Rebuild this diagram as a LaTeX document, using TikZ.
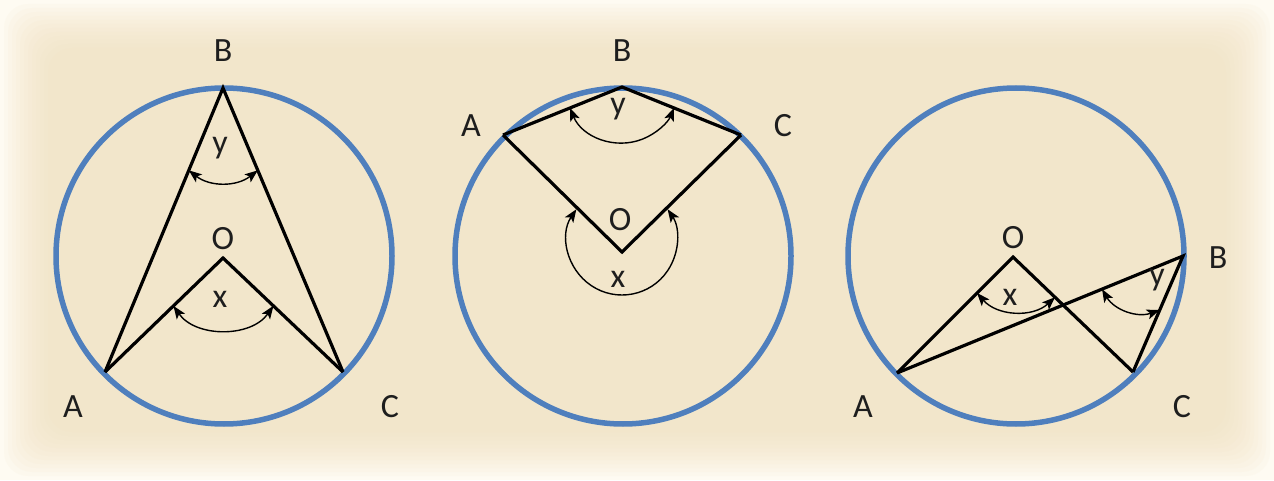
\documentclass[tikz,border=0pt]{standalone}
\usepackage{fontspec}
\setmainfont{Carlito}
\usetikzlibrary{arrows.meta,calc}
\definecolor{ringblue}{RGB}{79,127,189}
\definecolor{paper}{RGB}{242,225,190}
\definecolor{paperedge}{RGB}{254,251,242}
\definecolor{labelgray}{RGB}{30,30,30}
\begin{document}
\begin{tikzpicture}[x=1pt,y=1pt,
  ring/.style={draw=ringblue,line width=5.5pt},
  seg/.style={draw=black,line width=3.2pt,line join=miter},
  angarc/.style={draw=black,line width=1.4pt,{Stealth[length=13pt,width=10pt,inset=3pt]}-{Stealth[length=13pt,width=10pt,inset=3pt]}},
  lab/.style={anchor=base,inner sep=0pt,text=labelgray,font=\fontsize{34}{40}\selectfont}]
% background
\fill[paperedge] (0,0) rectangle (1274,480);
\foreach \i in {0,...,11}{
  \fill[paper,opacity=0.09,rounded corners=24pt] (4+4*\i,4+4*\i) rectangle (1270-4*\i,476-4*\i);
}
\useasboundingbox (0,0) rectangle (1274,480);

% ---------- panel 1 ----------
\coordinate (c1) at (224,224);
\coordinate (A1) at (105,108);
\coordinate (B1) at (223,392);
\coordinate (C1) at (343,108);
\coordinate (O1) at (223,222);
\draw[ring] (c1) circle[radius=168];
\draw[seg] (A1) -- (B1) -- (C1);
\draw[seg] (A1) -- (O1) -- (C1);
\coordinate (y1a) at ($(B1)!0.29!(A1)$);
\coordinate (y1b) at ($(B1)!0.29!(C1)$);
\draw[angarc] (y1a) to[bend right=38] (y1b);
\coordinate (x1a) at ($(O1)!0.42!(A1)$);
\coordinate (x1b) at ($(O1)!0.42!(C1)$);
\draw[angarc] (x1a) to[bend right=55] (x1b);
\node[lab] (lB1) at (223,418) {B};
\node[lab] (lO1) at (223,231) {O};
\node[lab] (lA1) at (73,63) {A};
\node[lab] (lC1) at (390,63) {C};
\node[lab] (ly1) at (220,326) {y};
\node[lab] (lx1) at (220,173) {x};

% ---------- panel 2 ----------
\coordinate (c2) at (623,224);
\coordinate (A2) at (503,345);
\coordinate (B2) at (622,393);
\coordinate (C2) at (741,345);
\coordinate (O2) at (622,228);
\draw[ring] (c2) circle[radius=168];
\draw[seg] (A2) -- (B2) -- (C2);
\draw[seg] (A2) -- (O2) -- (C2);
\coordinate (y2s) at ($(B2)+(202:56)$);
\draw[angarc] (y2s) arc[start angle=202,end angle=338,radius=56];
\coordinate (P2) at (622,240);
\coordinate (x2s) at ($(P2)+(146:55)$);
\draw[angarc] (x2s) arc[start angle=146,end angle=394,radius=55];
\node[lab] (lB2) at (622,418) {B};
\node[lab] (lO2) at (620,250) {O};
\node[lab] (lA2) at (471,343) {A};
\node[lab] (lC2) at (783,343) {C};
\node[lab] (ly2) at (618,365) {y};
\node[lab] (lx2) at (618,193) {x};

% ---------- panel 3 ----------
\coordinate (c3) at (1016,224);
\coordinate (A3) at (897,107);
\coordinate (B3) at (1183,224);
\coordinate (C3) at (1133,108);
\coordinate (O3) at (1013,223);
\draw[ring] (c3) circle[radius=168];
\draw[seg] (A3) -- (O3) -- (C3);
\draw[seg] (A3) -- (B3) -- (C3);
\coordinate (x3a) at ($(O3)!0.31!(A3)$);
\coordinate (x3b) at ($(O3)!0.35!(C3)$);
\draw[angarc] (x3a) to[bend right=46] (x3b);
\coordinate (y3a) at ($(B3)!0.283!(A3)$);
\coordinate (y3b) at ($(B3)!0.465!(C3)$);
\draw[angarc] (y3a) to[bend right=40] (y3b);
\node[lab] (lB3) at (1218,212) {B};
\node[lab] (lO3) at (1013,232) {O};
\node[lab] (lA3) at (863,63) {A};
\node[lab] (lC3) at (1182,63) {C};
\node[lab] (lx3) at (1010,175) {x};
\node[lab] (ly3) at (1157,195) {y};
\end{tikzpicture}
\end{document}
